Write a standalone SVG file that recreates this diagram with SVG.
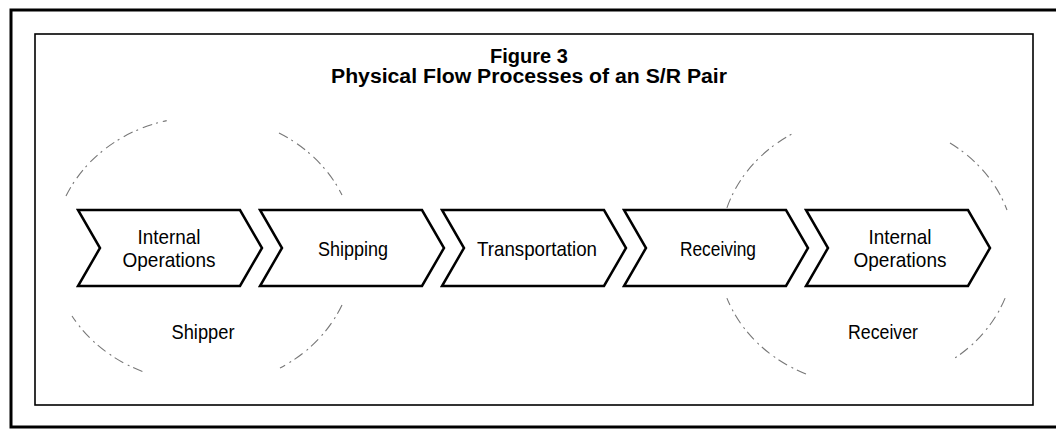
<svg xmlns="http://www.w3.org/2000/svg" width="1056" height="433" viewBox="0 0 1056 433">
<defs>
<style>
.frame{fill:none;stroke:#000}
.circ{fill:none;stroke:#777;stroke-width:1.1;stroke-dasharray:10 4 2 5}
.chev{fill:#fff;stroke:#000;stroke-width:2.5;stroke-linejoin:miter}
.title{font-family:"Liberation Sans",Arial,sans-serif;font-weight:bold;font-size:20px;fill:#000;text-anchor:middle}
.lbl{font-family:"Liberation Sans Narrow","Liberation Sans",Arial,sans-serif;font-size:21px;fill:#000;text-anchor:middle}
</style>
<polygon id="chevShape" points="0,210 162,210 184,248 162,286 0,286 22,248"/>
</defs>
<rect width="1056" height="433" fill="#fff"/>
<rect class="frame" x="11" y="10" width="1050" height="417" stroke-width="3"/>
<rect class="frame" x="35" y="34" width="998" height="371" stroke-width="1.6"/>
<g id="title">
<text class="title" x="529" y="63">Figure 3</text>
<text class="title" x="529" y="83" textLength="396" lengthAdjust="spacingAndGlyphs">Physical Flow Processes of an S/R Pair</text>
</g>
<g id="shipper">
<path class="circ" d="M66,196 A148,134 0 0 1 166.7,120.6"/>
<path class="circ" d="M279,133 A148,134 0 0 1 342,195"/>
<path class="circ" d="M342,305 A148,134 0 0 1 280,368"/>
<path class="circ" d="M142.4,371.4 A148,134 0 0 1 72,316"/>
<text class="lbl" x="203" y="339" textLength="63" lengthAdjust="spacingAndGlyphs">Shipper</text>
</g>
<g id="receiver">
<path class="circ" d="M726.9,207.9 A148,132 0 0 1 792,134"/>
<path class="circ" d="M950,143 A148,132 0 0 1 1007,210"/>
<path class="circ" d="M1005.1,298.1 A148,132 0 0 1 955,358"/>
<path class="circ" d="M806,374 A148,132 0 0 1 726.9,298.1"/>
<text class="lbl" x="883" y="339" textLength="70" lengthAdjust="spacingAndGlyphs">Receiver</text>
</g>
<g id="connectors"></g>
<g id="node-internal-ops-1">
<use href="#chevShape" class="chev" x="78"/>
<text class="lbl" x="169" y="244" textLength="63" lengthAdjust="spacingAndGlyphs">Internal</text>
<text class="lbl" x="169" y="267" textLength="93" lengthAdjust="spacingAndGlyphs">Operations</text>
</g>
<g id="node-shipping">
<use href="#chevShape" class="chev" x="260"/>
<text class="lbl" x="353" y="256" textLength="70" lengthAdjust="spacingAndGlyphs">Shipping</text>
</g>
<g id="node-transportation">
<use href="#chevShape" class="chev" x="442"/>
<text class="lbl" x="537" y="256" textLength="120" lengthAdjust="spacingAndGlyphs">Transportation</text>
</g>
<g id="node-receiving">
<use href="#chevShape" class="chev" x="624"/>
<text class="lbl" x="718" y="256" textLength="76" lengthAdjust="spacingAndGlyphs">Receiving</text>
</g>
<g id="node-internal-ops-2">
<use href="#chevShape" class="chev" x="806"/>
<text class="lbl" x="900" y="244" textLength="63" lengthAdjust="spacingAndGlyphs">Internal</text>
<text class="lbl" x="900" y="267" textLength="93" lengthAdjust="spacingAndGlyphs">Operations</text>
</g>
</svg>
